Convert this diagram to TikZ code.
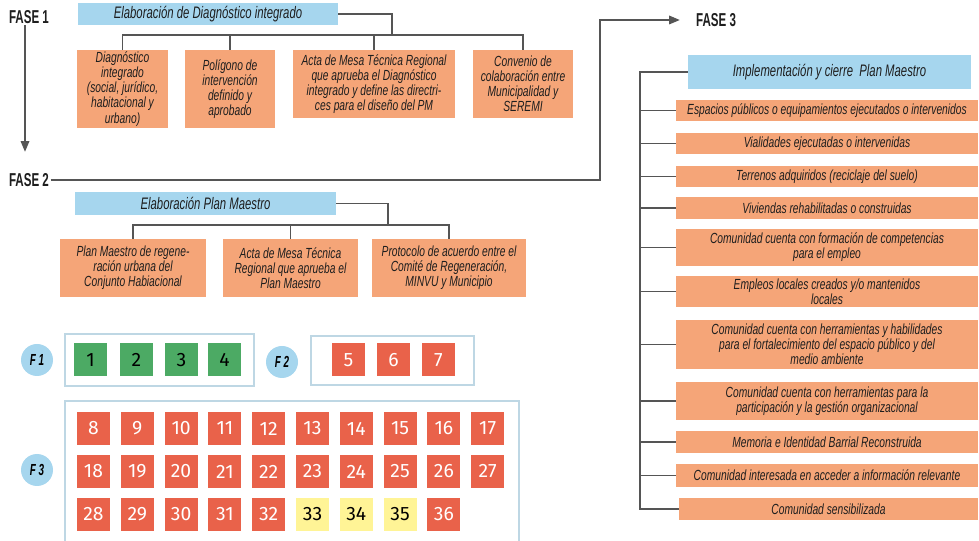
\documentclass[tikz,border=0pt]{standalone}
\usepackage{fontspec}
\usetikzlibrary{arrows.meta}
\newfontfamily\condit[FakeStretch=0.7]{Liberation Sans}
\newfontfamily\condhd[FakeStretch=0.68]{Liberation Sans}
\newfontfamily\condbf[FakeStretch=0.62]{Liberation Sans}
\newfontfamily\numfont{Fira Sans}
\definecolor{celeste}{RGB}{166,214,238}
\definecolor{salmon}{RGB}{245,165,120}
\definecolor{rojo}{RGB}{233,98,74}
\definecolor{verde}{RGB}{76,170,100}
\definecolor{amarillo}{RGB}{255,244,150}
\definecolor{marco}{RGB}{190,215,228}
\definecolor{linea}{RGB}{85,85,85}
\definecolor{texto}{RGB}{30,30,30}
\tikzset{
    boxsize/.style 2 args={minimum width=#1*0.75pt, minimum height=#2*0.75pt},
    header/.style={fill=celeste, text=texto, inner sep=0pt,
        font=\condhd\itshape\fontsize{12.5}{13}\selectfont},
    product/.style={fill=salmon, text=texto, inner sep=0pt, align=center,
        font=\condit\itshape\fontsize{11}{11.3}\selectfont},
    faselbl/.style={inner sep=1pt, text=texto,
        font=\condbf\bfseries\fontsize{14}{15}\selectfont},
    link/.style={draw=linea, line width=0.8pt},
    fasearrow/.style={draw=linea, line width=0.9pt, -{Triangle[length=8pt,width=6.5pt]}},
    frame/.style={draw=marco, line width=0.8pt},
    phase/.style={circle, fill=celeste, minimum size=24pt, inner sep=0pt,
        font=\condbf\bfseries\itshape\fontsize{12}{12}\selectfont},
    square/.style={boxsize={33}{33}, inner sep=0pt, font=\numfont\fontsize{14.5}{14.5}\selectfont},
}

\begin{document}
\begin{tikzpicture}[x=0.75pt, y=-0.75pt]
    \useasboundingbox (0,0) rectangle (979,541);

    % fases
    \node[faselbl] (f1) at (29,17) {FASE 1};
    \node[faselbl] (f2) at (29,180) {FASE 2};
    \node[faselbl] (f3) at (716,20) {FASE 3};
    \draw[fasearrow] ([xshift=-3pt]f1.south) -- ([xshift=-3pt,yshift=15pt]f2.north);
    \coordinate (turn) at (600,0);
    \draw[fasearrow] (f2.east) -| (turn |- f3) -- ([xshift=-11pt]f3.west);

    % fase 1
    \node[header, boxsize={260}{22}] (b1) at (208,14) {Elaboración de Diagnóstico integrado};
    \node[product, boxsize={91}{78}] (d1) at (122.5,89) {Diagnóstico\\integrado\\(social, jurídico,\\habitacional y\\urbano)};
    \node[product, boxsize={90}{78}] (d2) at (230,89) {Polígono de\\intervención\\definido y\\aprobado};
    \node[product, boxsize={162}{68}] (d3) at (374,84) {Acta de Mesa Técnica Regional\\que aprueba el Diagnóstico\\integrado y define las directri-\\ces para el diseño del PM};
    \node[product, boxsize={100}{68}] (d4) at (523,84) {Convenio de\\colaboración entre\\Municipalidad y\\SEREMI};
    \coordinate (j1) at (392,35);
    \draw[link] (b1.east) -| (j1);
    \draw[link] (d1.north) |- (j1);
    \draw[link] (d4.north) |- (j1);
    \draw[link] (d2.north) -- (d2.north |- j1);
    \draw[link] (d3.north) -- (d3.north |- j1);

    % fase 2
    \node[header, boxsize={261}{23}] (b2) at (205.5,203.5) {Elaboración Plan Maestro};
    \node[product, boxsize={146}{58}] (p1) at (133,268) {Plan Maestro de regene-\\ración urbana del\\Conjunto Habiacional};
    \node[product, boxsize={135}{58}] (p2) at (290.5,268) {Acta de Mesa Técnica\\Regional que aprueba el\\Plan Maestro};
    \node[product, boxsize={154}{58}] (p3) at (449,268) {Protocolo de acuerdo entre el\\Comité de Regeneración,\\MINVU y Municipio};
    \coordinate (j2) at (388,225);
    \draw[link] (b2.east) -| (j2);
    \draw[link] (p1.north) |- (j2);
    \draw[link] (p3.north) |- (j2);
    \draw[link] (p2.north) -- (p2.north |- j2);

    % fase 3
    \node[header, boxsize={283}{34}] (b3) at (829.5,72) {Implementación y cierre\ \ Plan Maestro};
    \node[product, boxsize={302}{21}] (e1) at (827,110.5) {Espacios públicos o equipamientos ejecutados o intervenidos};
    \node[product, boxsize={302}{21}] (e2) at (827,143.5) {Vialidades ejecutadas o intervenidas};
    \node[product, boxsize={302}{21}] (e3) at (827,176.5) {Terrenos adquiridos (reciclaje del suelo)};
    \node[product, boxsize={302}{22}] (e4) at (827,208) {Viviendas rehabilitadas o construidas};
    \node[product, boxsize={302}{37}] (e5) at (827,247.5) {Comunidad cuenta con formación de competencias\\para el empleo};
    \node[product, boxsize={302}{31}] (e6) at (827,291.5) {Empleos locales creados y/o mantenidos\\locales};
    \node[product, boxsize={302}{49}] (e7) at (827,344.5) {Comunidad cuenta con herramientas y habilidades\\para el fortalecimiento del espacio público y del\\medio ambiente};
    \node[product, boxsize={302}{38}] (e8) at (827,401) {Comunidad cuenta con herramientas para la\\participación y la gestión organizacional};
    \node[product, boxsize={302}{22}] (e9) at (827,442) {Memoria e Identidad Barrial Reconstruida};
    \node[product, boxsize={302}{23}] (e10) at (827,475.5) {Comunidad interesada en acceder a información relevante};
    \node[product, boxsize={299}{22}] (e11) at (828.5,509) {Comunidad sensibilizada};
    \coordinate (spine) at (640,0);
    \draw[link] (b3.west) -| (spine |- e11.west) -- (e11.west);
    \foreach \i in {1,...,10}
        \draw[link] (spine |- e\i.west) -- (e\i.west);

    % productos por fase
    \node[phase] (c1) at (37,360) {F 1};
    \node[phase] (c2) at (282,362) {F 2};
    \node[phase] (c3) at (37,470) {F 3};
    \draw[frame] (65,334) rectangle (254,386);
    \draw[frame] (311,336) rectangle (474,385);
    \draw[frame] (65,545) |- (519,401) -- (519,545);
    \foreach \n/\x in {1/90.5, 2/136.5, 3/181.5, 4/224.5}
        \node[square, fill=verde, text=black] (n\n) at (\x,360) {\n};
    \foreach \n/\x in {5/348.5, 6/393.5, 7/438.5}
        \node[square, fill=rojo, text=white] (n\n) at (\x,360) {\n};
    \foreach \n in {8,...,32,36}
        \node[square, fill=rojo, text=white] (n\n) at ({93.5+43.8*mod(\n-8,10)},{428.5+43*int((\n-8)/10)}) {\n};
    \foreach \n in {33,34,35}
        \node[square, fill=amarillo, text=black] (n\n) at ({93.5+43.8*mod(\n-8,10)},{428.5+43*int((\n-8)/10)}) {\n};
\end{tikzpicture}
\end{document}
